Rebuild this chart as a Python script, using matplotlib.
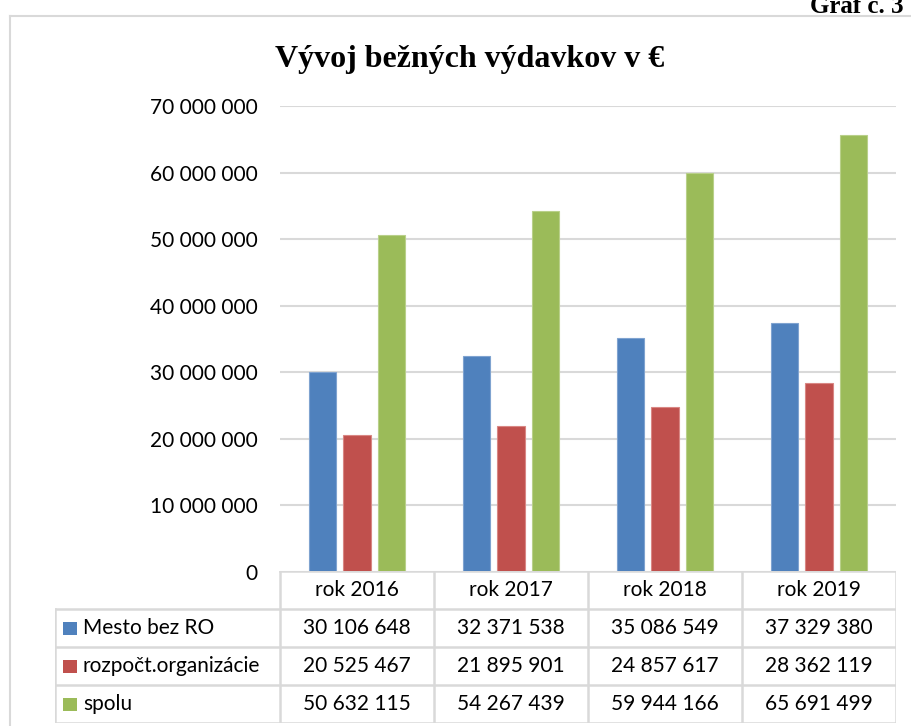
import matplotlib
matplotlib.use('Agg')
import matplotlib.pyplot as plt
from matplotlib.lines import Line2D
from matplotlib.patches import Rectangle
from matplotlib.ticker import FuncFormatter

# data
years = ['rok 2016', 'rok 2017', 'rok 2018', 'rok 2019']
series_names = ['Mesto bez RO', 'rozpočt.organizácie', 'spolu']
mesto = [30106648, 32371538, 35086549, 37329380]
rozpocet = [20525467, 21895901, 24857617, 28362119]
spolu = [50632115, 54267439, 59944166, 65691499]
colors = ['#4F81BD', '#C0504D', '#9BBB59']
edges = ['#7FA3D0', '#D98784', '#B9D08A']

W, H = 912, 726
font = ['Lato', 'DejaVu Sans']
grid_col = '#d9d9d9'

def fmt(v):
    return '{:,}'.format(int(v)).replace(',', ' ')

fig = plt.figure(figsize=(W / 100, H / 100), dpi=100)

def px(x0, y0, x1, y1):
    # pixel box (from top-left) -> figure fraction rect
    return [x0 / W, 1 - y1 / H, (x1 - x0) / W, (y1 - y0) / H]

# chart border (only left and top visible)
fig.add_artist(Line2D([10 / W, 1], [1 - 16 / H] * 2, color=grid_col, lw=1.5))
fig.add_artist(Line2D([10 / W] * 2, [0, 1 - 16 / H], color=grid_col, lw=1.5))

# page caption, cut by the top edge like in the scan
fig.text(904 / W, 1 - 13 / H, 'Graf č. 3', ha='right', va='baseline',
         fontsize=18, fontweight='bold', family='Liberation Serif')
fig.text(470 / W, 1 - 59 / H, 'Vývoj bežných výdavkov v €', ha='center', va='center',
         fontsize=23, fontweight='bold', family='Liberation Serif')

# bars
ax = fig.add_axes(px(280, 106, 896, 572))
all_series = [mesto, rozpocet, spolu]
step = 0.224
bw = 0.176
for k, vals in enumerate(all_series):
    xs = [i + (k - 1) * step for i in range(len(years))]
    ax.bar(xs, vals, width=bw, color=colors[k], edgecolor=edges[k], linewidth=0.8, zorder=3)

ax.set_xlim(-0.5, len(years) - 0.5)
ax.set_ylim(0, 70000000)
ax.set_yticks(range(0, 70000001, 10000000))
ax.yaxis.set_major_formatter(FuncFormatter(lambda v, p: fmt(v)))
ax.set_xticks([])
ax.tick_params(axis='y', length=0, pad=16)
for lab in ax.get_yticklabels():
    lab.set_family(font)
    lab.set_fontsize(15)
ax.grid(axis='y', color=grid_col, lw=1.5, zorder=0)
for s in ax.spines.values():
    s.set_visible(False)

# data table under the bars
label_w = (280 - 55) / 154.0
tx = fig.add_axes(px(55, 571, 896, 723))
tx.set_xlim(-0.5 - label_w, len(years) - 0.5)
tx.set_ylim(4, 0)
tx.axis('off')
left = -0.5 - label_w
right = len(years) - 0.5
lc = dict(color=grid_col, lw=1.8, solid_capstyle='projecting')
tx.plot([-0.5, right], [0, 0], **lc)
for r in range(1, 5):
    tx.plot([left, right], [r, r], **lc)
tx.plot([left, left], [1, 4], **lc)
for c in range(len(years) + 1):
    tx.plot([c - 0.5, c - 0.5], [0, 4], **lc)

for i, y in enumerate(years):
    tx.text(i, 0.5, y, ha='center', va='center', fontsize=15, family=font)

for k, (name, vals) in enumerate(zip(series_names, all_series)):
    row = k + 1.5
    tx.add_patch(Rectangle((left + 8 / 154, row - 6.5 / 38), 14 / 154, 13 / 38,
                           color=colors[k], lw=0))
    tx.text(left + 28 / 154, row, name, ha='left', va='center', fontsize=15, family=font)
    for i, v in enumerate(vals):
        tx.text(i, row, fmt(v), ha='center', va='center', fontsize=15, family=font)

fig.savefig('out.png', dpi=100)
